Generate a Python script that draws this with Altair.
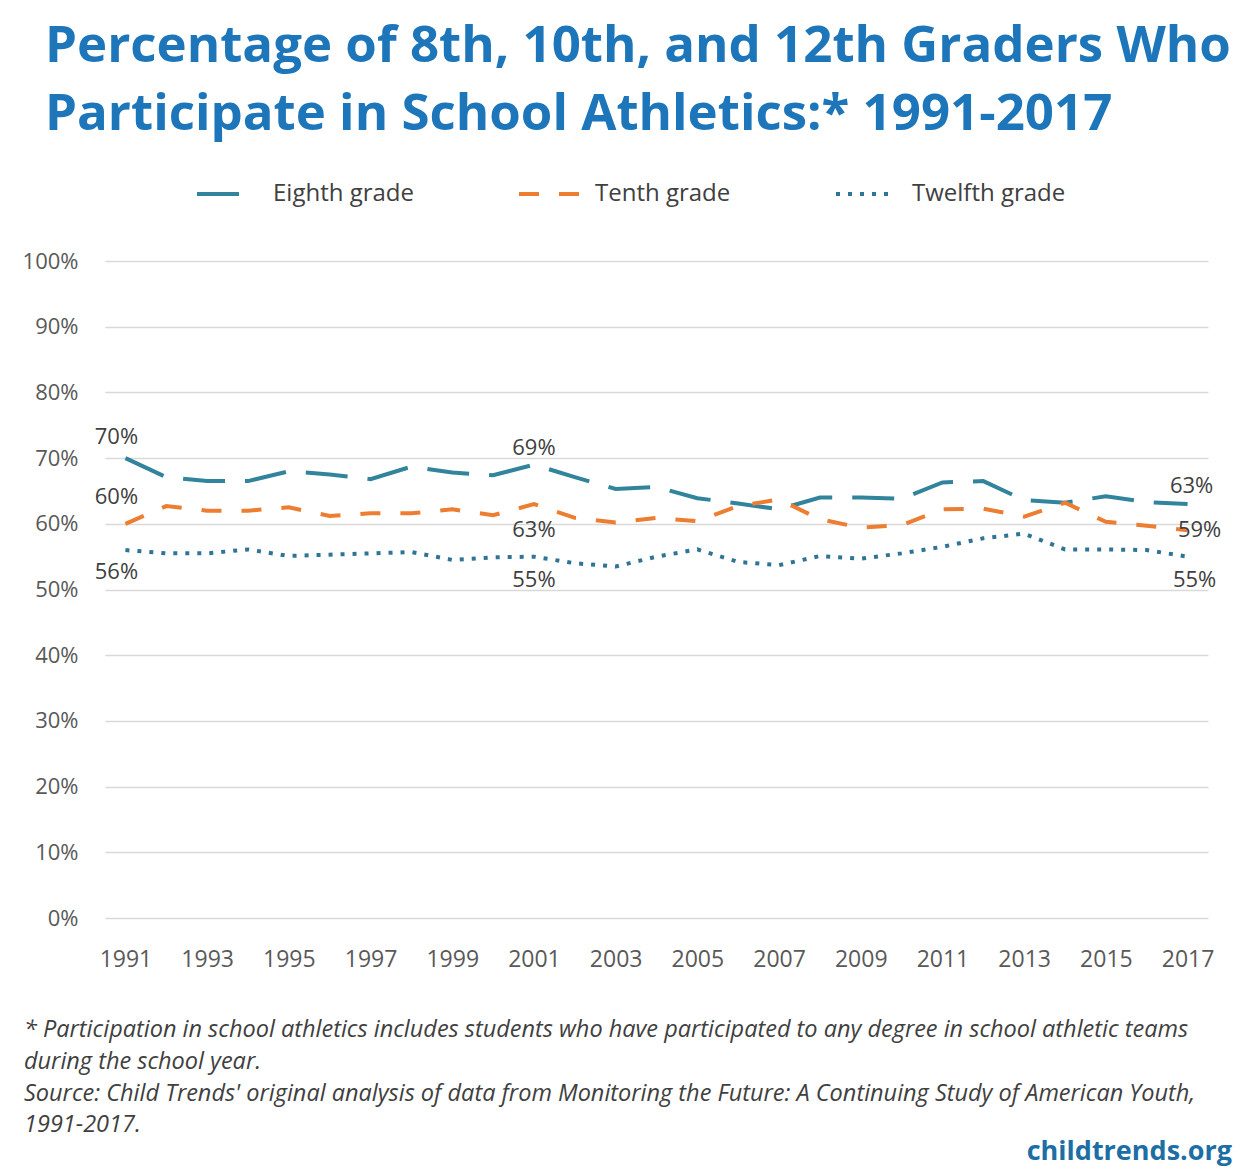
import altair as alt
import pandas as pd

# Survey years and participation rates (%) by grade
years = list(range(1991, 2018))
eighth = [70, 67.1, 66.5, 66.5, 68.0, 67.5, 66.8, 68.7, 67.8, 67.4, 69, 67.1, 65.3, 65.6,
          63.9, 63.1, 62.2, 64.0, 64.0, 63.8, 66.3, 66.5, 63.6, 63.2, 64.2, 63.3, 63]
tenth = [60, 62.7, 62.0, 62.0, 62.5, 61.2, 61.6, 61.6, 62.2, 61.3, 63, 60.9, 60.2, 60.9,
         60.4, 62.7, 63.7, 60.7, 59.4, 59.8, 62.2, 62.3, 61.1, 63.2, 60.3, 59.7, 59]
twelfth = [56, 55.5, 55.5, 56.1, 55.1, 55.3, 55.5, 55.7, 54.5, 54.9, 55, 54.0, 53.5, 55.0,
           56.1, 54.2, 53.7, 55.1, 54.7, 55.5, 56.5, 57.8, 58.5, 56.1, 56.1, 56.0, 55]

series_names = ["Eighth grade", "Tenth grade", "Twelfth grade"]
x_tick_years = list(range(1991, 2018, 2))
y_ticks = list(range(0, 101, 10))

title_lines = ["Percentage of 8th, 10th, and 12th Graders Who",
               "Participate in School Athletics:* 1991-2017"]
note_lines = [
    "* Participation in school athletics includes students who have participated to any degree in school athletic teams",
    "during the school year.",
    "Source: Child Trends' original analysis of data from Monitoring the Future: A Continuing Study of American Youth,",
    "1991-2017.",
]
brand = "childtrends.org"

# Which points carry a value label
labeled_points = [
    ("Eighth grade", 1991), ("Tenth grade", 1991), ("Twelfth grade", 1991),
    ("Eighth grade", 2001), ("Tenth grade", 2001), ("Twelfth grade", 2001),
    ("Eighth grade", 2017), ("Tenth grade", 2017), ("Twelfth grade", 2017),
]

# ---- styling -------------------------------------------------------------
FONT = "Open Sans"
BLUE = "#1D76B9"
TEXT = "#404040"
AXIS_TEXT = "#595959"
COLORS = ["#31849B", "#ED7D31", "#2F7494"]
DASHES = [[42, 20], [20, 20], [4, 8]]
W, H = 1103, 657

# label offsets (dx, dy) in pixels relative to the point
label_offsets = {
    ("Eighth grade", 1991): (-9, -21), ("Tenth grade", 1991): (-9, -27),
    ("Twelfth grade", 1991): (-9, 22),
    ("Eighth grade", 2001): (0, -17), ("Tenth grade", 2001): (0, 26),
    ("Twelfth grade", 2001): (0, 23),
    ("Eighth grade", 2017): (4, -18), ("Tenth grade", 2017): (12, 0),
    ("Twelfth grade", 2017): (7, 23),
}

rows = []
for name, vals in zip(series_names, [eighth, tenth, twelfth]):
    for yr, v in zip(years, vals):
        rows.append({"year": yr, "value": v, "grade": name})
df = pd.DataFrame(rows)

x_enc = alt.X("year:Q", scale=alt.Scale(domain=[1990.5, 2017.5], nice=False, zero=False),
              axis=alt.Axis(values=x_tick_years, format="d", title=None, grid=False,
                            domain=False, ticks=False, labelPadding=30, labelFontSize=23,
                            labelFont=FONT, labelColor=AXIS_TEXT, labelFlush=False))
y_enc = alt.Y("value:Q", scale=alt.Scale(domain=[0, 100], nice=False),
              axis=alt.Axis(values=y_ticks, labelExpr="datum.value + '%'", title=None,
                            domain=False, ticks=False, labelPadding=27, labelFontSize=22,
                            labelFont=FONT, labelColor=AXIS_TEXT, gridColor="#D9D9D9",
                            gridWidth=1.3))

lines = alt.Chart(df).mark_line(strokeWidth=4, strokeCap="butt").encode(
    x=x_enc,
    y=y_enc,
    color=alt.Color("grade:N", scale=alt.Scale(domain=series_names, range=COLORS),
                    legend=alt.Legend(title=None, orient="none", legendX=90, legendY=-99,
                                      direction="horizontal", symbolType="stroke",
                                      symbolSize=3600, symbolStrokeWidth=4,
                                      labelFontSize=24, labelFont=FONT, labelColor=TEXT,
                                      labelOffset=14, columnPadding=97, labelLimit=400)),
    strokeDash=alt.StrokeDash("grade:N", scale=alt.Scale(domain=series_names, range=DASHES),
                              legend=None),
    detail="grade:N",
)

label_layers = []
for name, yr in labeled_points:
    dx, dy = label_offsets[(name, yr)]
    sub = df[(df.grade == name) & (df.year == yr)]
    label_layers.append(
        alt.Chart(sub).mark_text(fontSize=22, font=FONT, color=TEXT, dx=dx, dy=dy,
                                 baseline="middle", align="center").encode(
            x="year:Q", y="value:Q",
            text=alt.Text("label:N"),
        ).transform_calculate(label="format(datum.value, '.0f') + '%'")
    )


def text_layer(s, x, y, **kw):
    return alt.Chart(pd.DataFrame({"t": [s]})).mark_text(font=FONT, baseline="alphabetic", **kw).encode(
        x=alt.value(x), y=alt.value(y), text="t:N")


title_layers = [
    text_layer(title_lines[0], -60, -199, align="left", fontSize=51, fontWeight="bold", color=BLUE),
    text_layer(title_lines[1], -60, -131, align="left", fontSize=51, fontWeight="bold", color=BLUE),
]
note_layers = [
    text_layer(line, -81, base, align="left", fontSize=23.5, fontStyle="italic", color=TEXT)
    for line, base in zip(note_lines, [776, 808, 840, 871])
]
brand_layer = text_layer(brand, 1127, 899, align="right", fontSize=27, fontWeight="bold", color="#1C6EA4")

chart = alt.layer(lines, *label_layers, *title_layers, *note_layers, brand_layer).properties(
    width=W, height=H,
    padding={"left": 105, "top": 261, "right": 36, "bottom": 252},
    autosize=alt.AutoSizeParams(type="none"),
    background="white",
).configure_view(stroke=None)

chart.save("out.html", embed_options={"renderer": "svg", "actions": False})
